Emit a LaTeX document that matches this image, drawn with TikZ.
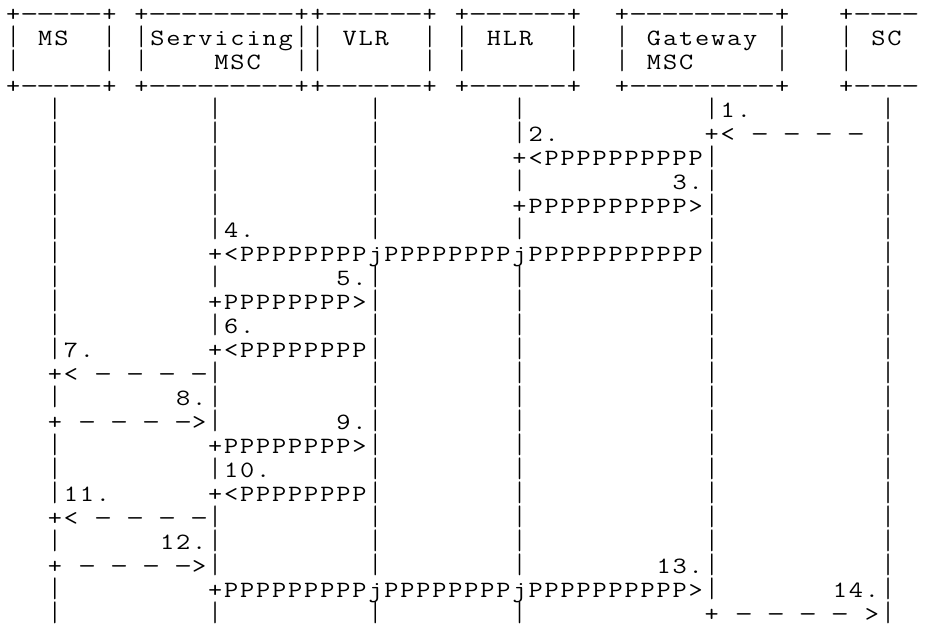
\documentclass[tikz,border=0pt]{standalone}
\usepackage{graphicx}
\newlength\cw \setlength\cw{9.612pt}
\newcommand\asciifont{\ttfamily\fontsize{14pt}{14.4pt}\selectfont}
\newcommand\tallbar{\raisebox{-1.8pt}[11.4pt][1.8pt]{\resizebox*{\width}{13.2pt}{\raisebox{\depth}{|}}}}
\newcommand\widedash{\scalebox{1.5}[1]{-}}
\newcommand\widech[1]{\scalebox{1.18}[1]{#1}}
\makeatletter
\def\gl#1{\gl@#1\@nil}
\def\gl@#1{\ifx#1\@nil\else\gl@ch#1\expandafter\gl@\fi}
\def\gl@ch#1{\makebox[\cw]{\ifx#1_\else\ifx#1|\tallbar\else\ifx#1-\widedash\else\widech{#1}\fi\fi\fi}}
\makeatother
\tikzset{asc/.style={anchor=base west, inner sep=0pt, outer sep=0pt, font=\asciifont}}
\begin{document}
\begin{tikzpicture}[x=1pt, y=-14.4pt]
\useasboundingbox (0,0) rectangle (555,26.0417);
\fill[white] (0,0) rectangle (555,26.0417);
% header (boxes)
\node[asc] (h1) at (3.17,0.875) {\gl{+-----+_+---------++------+_+------+__+---------+___+----}};
\node[asc] (h2) at (3.17,1.875) {\gl{|_MS__|_|Servicing||_VLR__|_|_HLR__|__|_Gateway_|___|_SC}};
\node[asc] (h3) at (3.17,2.875) {\gl{|_____|_|____MSC__||______|_|______|__|_MSC_____|___|}};
\node[asc] (h4) at (3.17,3.875) {\gl{+-----+_+---------++------+_+------+__+---------+___+----}};
% body (lifelines and messages)
\node[asc] (r5)  at (-0.64,4.875)  {\gl{___|_________|_________|________|___________|1.________|}};
\node[asc] (r6)  at (-0.64,5.875)  {\gl{___|_________|_________|________|2._________+<_-_-_-_-_|}};
\node[asc] (r7)  at (-0.64,6.875)  {\gl{___|_________|_________|________+<PPPPPPPPPP|__________|}};
\node[asc] (r8)  at (-0.64,7.875)  {\gl{___|_________|_________|________|_________3.|__________|}};
\node[asc] (r9)  at (-0.64,8.875)  {\gl{___|_________|_________|________+PPPPPPPPPP>|__________|}};
\node[asc] (r10) at (-0.64,9.875)  {\gl{___|_________|4._______|________|___________|__________|}};
\node[asc] (r11) at (-0.64,10.875) {\gl{___|_________+<PPPPPPPPjPPPPPPPPjPPPPPPPPPPP|__________|}};
\node[asc] (r12) at (-0.64,11.875) {\gl{___|_________|_______5.|________|___________|__________|}};
\node[asc] (r13) at (-0.64,12.875) {\gl{___|_________+PPPPPPPP>|________|___________|__________|}};
\node[asc] (r14) at (-0.64,13.875) {\gl{___|_________|6._______|________|___________|__________|}};
\node[asc] (r15) at (-0.64,14.875) {\gl{___|7._______+<PPPPPPPP|________|___________|__________|}};
\node[asc] (r16) at (-0.64,15.875) {\gl{___+<_-_-_-_-|_________|________|___________|__________|}};
\node[asc] (r17) at (-0.64,16.875) {\gl{___|_______8.|_________|________|___________|__________|}};
\node[asc] (r18) at (-0.64,17.875) {\gl{___+_-_-_-_->|_______9.|________|___________|__________|}};
\node[asc] (r19) at (-0.64,18.875) {\gl{___|_________+PPPPPPPP>|________|___________|__________|}};
\node[asc] (r20) at (-0.64,19.875) {\gl{___|_________|10.______|________|___________|__________|}};
\node[asc] (r21) at (-0.64,20.875) {\gl{___|11.______+<PPPPPPPP|________|___________|__________|}};
\node[asc] (r22) at (-0.64,21.875) {\gl{___+<_-_-_-_-|_________|________|___________|__________|}};
\node[asc] (r23) at (-0.64,22.875) {\gl{___|______12.|_________|________|___________|__________|}};
\node[asc] (r24) at (-0.64,23.875) {\gl{___+_-_-_-_->|_________|________|________13.|__________|}};
\node[asc] (r25) at (-0.64,24.875) {\gl{___|_________+PPPPPPPPPjPPPPPPPPjPPPPPPPPPP>|_______14.|}};
\node[asc] (r26) at (-0.64,25.875) {\gl{___|_________|_________|________|___________+_-_-_-_-_>|}};
\end{tikzpicture}
\end{document}
